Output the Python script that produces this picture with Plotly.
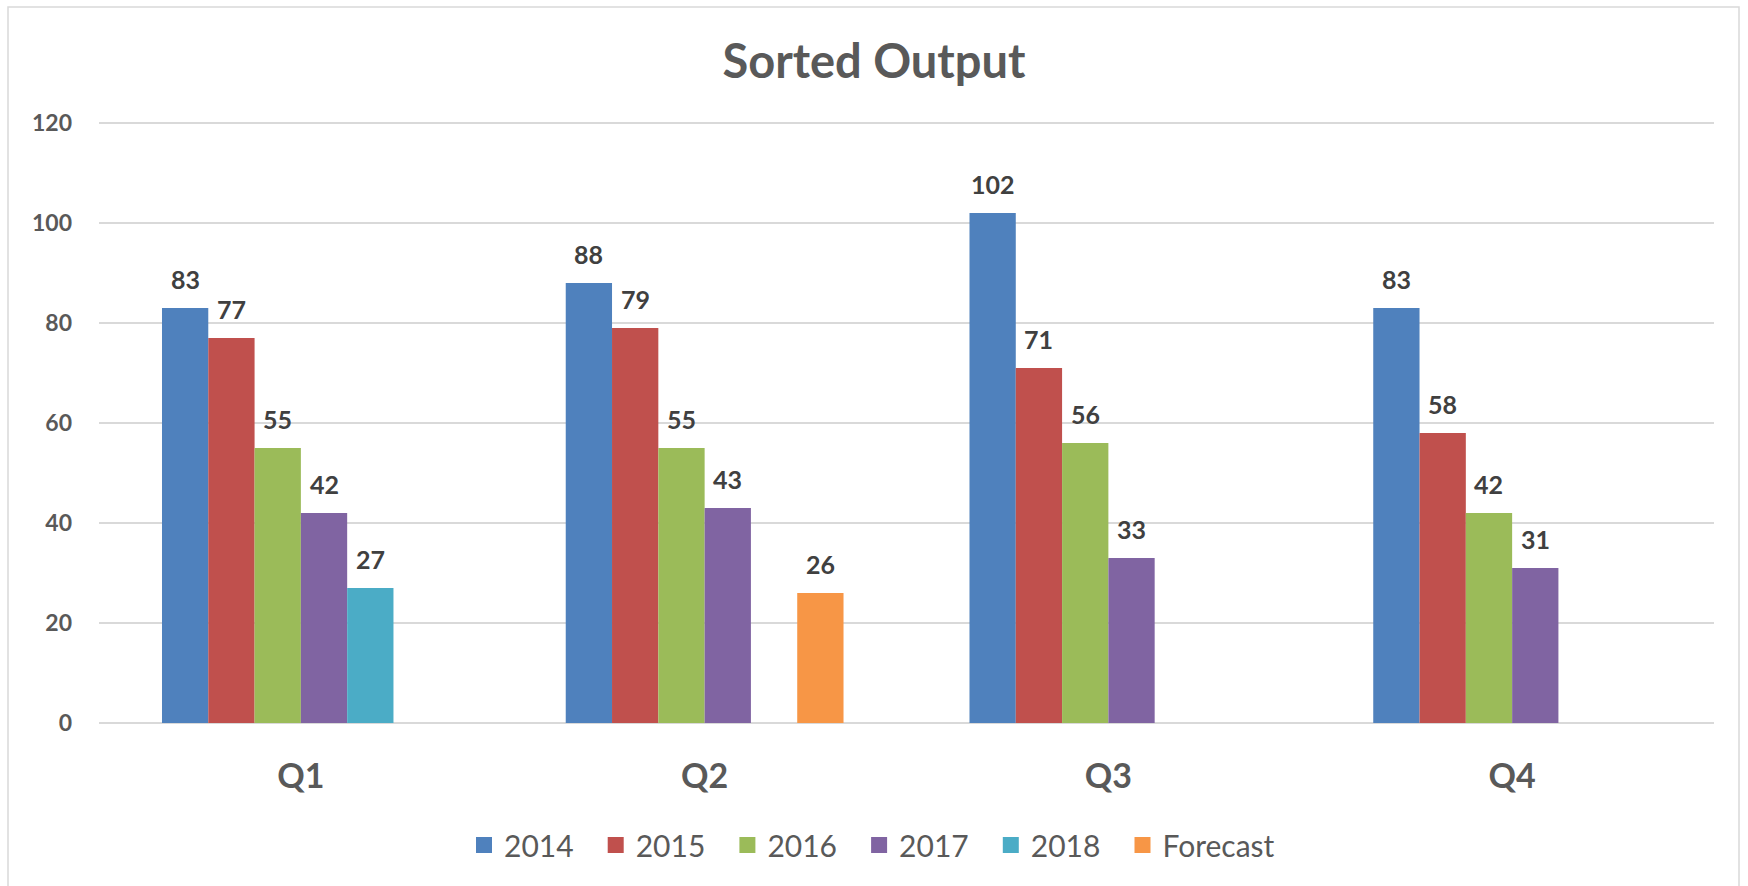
import plotly.graph_objects as go

# ---- data ----
quarters = ["Q1", "Q2", "Q3", "Q4"]
series_names = ["2014", "2015", "2016", "2017", "2018", "Forecast"]
v2014 = [83, 88, 102, 83]
v2015 = [77, 79, 71, 58]
v2016 = [55, 55, 56, 42]
v2017 = [42, 43, 33, 31]
v2018 = [27, None, None, None]
v_forecast = [None, 26, None, None]
colors = ["#4F81BD", "#C0504D", "#9BBB59", "#8064A2", "#4BACC6", "#F79646"]
y_ticks = [0, 20, 40, 60, 80, 100, 120]
title_text = "Sorted Output"

series = [v2014, v2015, v2016, v2017, v2018, v_forecast]

# ---- layout constants ----
W, H = 1748, 886
ML, MR, MT, MB = 99, 34, 118, 163
PW, PH = W - ML - MR, H - MT - MB
Y_MAX = 121
BARGAP = 0.312
FONT = "Lato"
GRID = "#D9D9D9"
LEG_STEP = 131.7          # distance between legend entries (px)
LEG_LEFT = 464            # left of legend box (px)
LEG_Y = 845               # legend row centre (px)

fig = go.Figure()
xidx = list(range(len(quarters)))

for name, vals, col in zip(series_names, series, colors):
    fig.add_trace(go.Bar(
        x=xidx, y=vals, name=name,
        marker=dict(color=col, line=dict(width=0)),
        showlegend=False, hoverinfo="x+y+name",
    ))

# data labels, positioned through the axis scales
n = len(series)
slot = (1 - BARGAP) / n
for si, vals in enumerate(series):
    for qi, v in enumerate(vals):
        if v is None:
            continue
        fig.add_annotation(
            x=qi + (si - (n - 1) / 2) * slot, y=v, xref="x", yref="y",
            text=str(v), showarrow=False, yanchor="bottom", yshift=12,
            font=dict(family=FONT, size=25, color="#404040", weight="bold"),
        )

# legend entries (square swatches); last one in a second legend box
for i, (name, col) in enumerate(zip(series_names, colors)):
    fig.add_trace(go.Scatter(
        x=[None], y=[None], mode="markers", name=name,
        marker=dict(symbol="square", size=16, color=col),
        hoverinfo="skip",
        legend="legend" if i < n - 1 else "legend2",
    ))

# outer chart border
fig.add_shape(
    type="rect", xref="paper", yref="paper",
    x0=(8 - ML) / PW, x1=(1739 - ML) / PW,
    y0=-(H + 20 - (H - MB)) / PH, y1=(H - MB - 7) / PH,
    line=dict(color=GRID, width=1.5), fillcolor="rgba(0,0,0,0)", layer="below",
)

legend_common = dict(
    orientation="h", xref="container", xanchor="left",
    y=1 - LEG_Y / H, yref="container", yanchor="middle",
    font=dict(family=FONT, size=30, color="#595959"),
    bgcolor="rgba(0,0,0,0)", borderwidth=0,
)

fig.update_layout(
    width=W, height=H,
    margin=dict(l=ML, r=MR, t=MT, b=MB),
    paper_bgcolor="white", plot_bgcolor="white",
    barmode="group", bargap=BARGAP, bargroupgap=0,
    title=dict(
        text=title_text, x=0.5, xref="container", xanchor="center",
        y=1 - 62 / H, yref="container", yanchor="middle",
        font=dict(family=FONT, size=47, color="#595959", weight="bold"),
    ),
    legend=dict(x=LEG_LEFT / W, entrywidth=LEG_STEP - 45, **legend_common),
    legend2=dict(x=(LEG_LEFT + (n - 1) * LEG_STEP) / W, **legend_common),
    xaxis=dict(
        range=[-0.5, len(quarters) - 0.5],
        tickvals=xidx, ticktext=quarters,
        showgrid=False, zeroline=False, showline=False, ticks="",
        ticklabelstandoff=30,
        tickfont=dict(family=FONT, size=34, color="#595959", weight="bold"),
        fixedrange=True,
    ),
    yaxis=dict(
        range=[0, Y_MAX], tickvals=y_ticks,
        showgrid=True, gridcolor=GRID, gridwidth=1.5,
        zeroline=True, zerolinecolor=GRID, zerolinewidth=1.5,
        showline=False, ticks="", ticklabelstandoff=26,
        tickfont=dict(family=FONT, size=23, color="#595959", weight="bold"),
        fixedrange=True,
    ),
    showlegend=True,
)

fig.write_html(
    "out.html",
    config={"displayModeBar": False},
    post_script="document.body.style.margin='0px';",
)
